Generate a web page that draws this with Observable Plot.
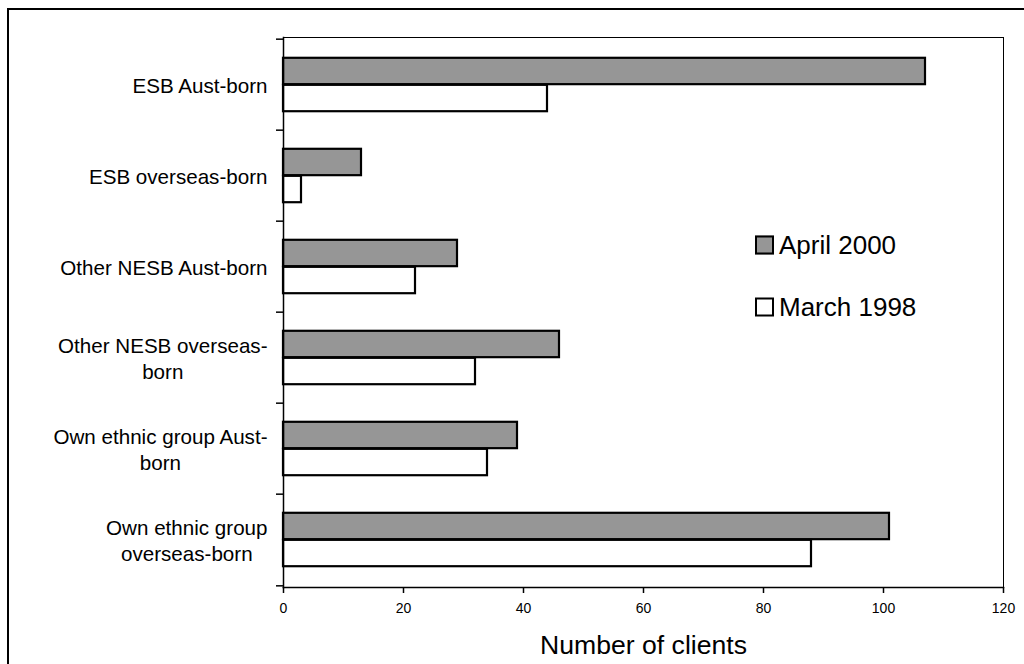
<!DOCTYPE html>
<html>
<head>
<meta charset="utf-8">
<script src="https://cdn.jsdelivr.net/npm/d3@7"></script>
<script src="https://cdn.jsdelivr.net/npm/@observablehq/plot@0.6"></script>
<style>
  html, body { margin: 0; padding: 0; background: #fff; overflow: hidden; }
  #wrap { position: relative; width: 1024px; height: 664px; font-family: "Liberation Sans", Arial, sans-serif; }
  #border { position: absolute; left: 7px; top: 8px; width: 1100px; height: 800px; border: 2px solid #000; box-sizing: border-box; }
  #legend { position: absolute; left: 755px; top: 0; font-size: 26px; color: #000; }
  .item { position: absolute; left: 0; display: flex; align-items: center; white-space: nowrap; transform: translateY(-50%); }
  .sw { width: 15px; height: 15px; border: 2px solid #000; margin-right: 5px; }
  #chart { position: absolute; left: 0; top: 0; }
</style>
</head>
<body>
<div id="wrap">
  <div id="border"></div>
  <div id="chart"></div>
  <div id="legend"></div>
</div>
<script>
const categories = [
  "ESB Aust-born",
  "ESB overseas-born",
  "Other NESB Aust-born",
  "Other NESB overseas-\nborn",
  "Own ethnic group Aust-\nborn",
  "Own ethnic group\noverseas-born"
];
const april2000 = [107, 13, 29, 46, 39, 101];
const march1998 = [44, 3, 22, 32, 34, 88];
const xTicks = [0, 20, 40, 60, 80, 100, 120];
const seriesNames = ["April 2000", "March 1998"];
const seriesColors = ["#969696", "#ffffff"];
const xLabel = "Number of clients";

const data = categories.map((c, i) => ({category: c, april: april2000[i], march: march1998[i]}));

const W = 1024, H = 664, mT = 37, mB = 77, mL = 283, mR = 21;
const step = (H - mT - mB) / categories.length;
const barH = step * 0.295;
const gap = (step - 2 * barH) / 2;

const chart = Plot.plot({
  width: W, height: H,
  marginLeft: mL, marginRight: mR, marginTop: mT, marginBottom: mB,
  style: {fontFamily: "'Liberation Sans', Arial, sans-serif", background: "transparent", overflow: "visible", color: "#000"},
  x: {domain: [0, 120], ticks: xTicks},
  y: {domain: categories, padding: 0},
  marks: [
    Plot.frame({stroke: "#000", strokeWidth: 1}),
    Plot.barX(data, {y: "category", x: "april", fill: seriesColors[0], stroke: "#000", strokeWidth: 2.2, insetTop: gap, insetBottom: gap + barH}),
    Plot.barX(data, {y: "category", x: "march", fill: seriesColors[1], stroke: "#000", strokeWidth: 2.2, insetTop: gap + barH, insetBottom: gap}),
    Plot.frame({anchor: "left", stroke: "#000", strokeWidth: 1.5}),
    Plot.frame({anchor: "bottom", stroke: "#000", strokeWidth: 1.5}),
    Plot.axisX({ticks: xTicks, tickSize: 6, tickPadding: 10, fontSize: 14, label: null, strokeWidth: 1.5}),
    Plot.axisX({ticks: [], tickSize: 0, label: xLabel, labelAnchor: "center", labelArrow: "none", labelOffset: 66, fontSize: 26.6}),
    Plot.axisY({tickSize: 0, tickPadding: 16, fontSize: 20.6, label: null, lineHeight: 1.26}),
    Plot.axisY({text: null, tickSize: 7, dy: -step / 2, label: null, strokeWidth: 1.5}),
    Plot.axisY([categories[categories.length - 1]], {text: null, tickSize: 7, dy: step / 2, label: null, strokeWidth: 1.5})
  ]
});
document.getElementById("chart").appendChild(chart);

// center multi-line category labels on their widest line (as in the reference)
chart.querySelectorAll('g[aria-label="y-axis tick label"] text').forEach(t => {
  const w = t.getBBox().width;
  t.setAttribute("text-anchor", "middle");
  const tr = t.getAttribute("transform") || "";
  t.setAttribute("transform", tr + ` translate(${-w / 2},0)`);
});

// legend
const legend = document.getElementById("legend");
const legendY = [245, 307];
seriesNames.forEach((name, i) => {
  const item = document.createElement("div");
  item.className = "item";
  item.style.top = legendY[i] + "px";
  const sw = document.createElement("div");
  sw.className = "sw";
  sw.style.background = seriesColors[i];
  const tx = document.createElement("span");
  tx.textContent = name;
  item.appendChild(sw);
  item.appendChild(tx);
  legend.appendChild(item);
});
</script>
</body>
</html>
